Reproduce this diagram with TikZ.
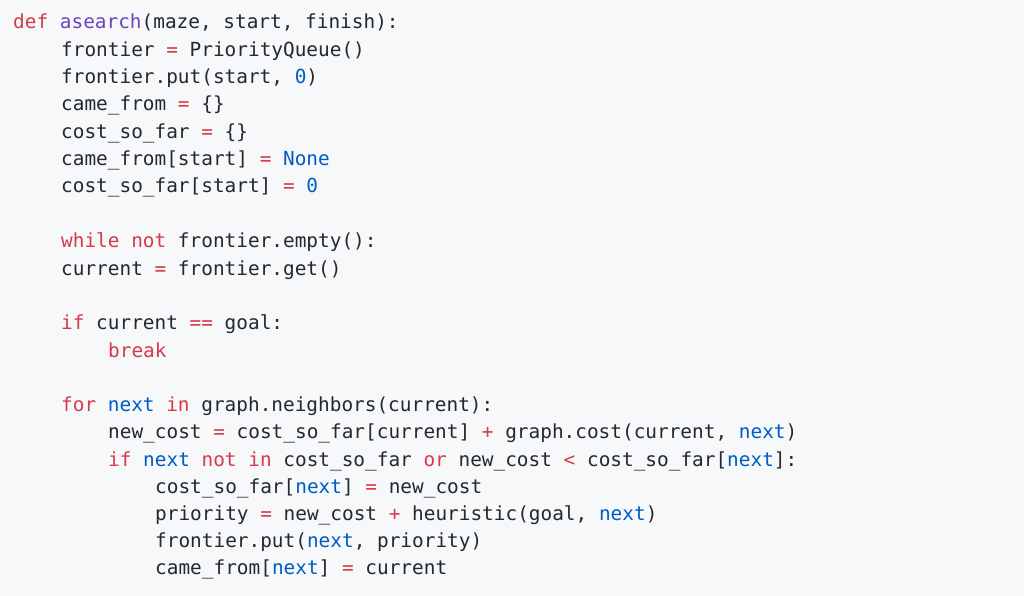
\documentclass[tikz,border=0pt]{standalone}
\usepackage{fontspec}
\setmonofont{DejaVu Sans Mono}
\definecolor{bg}{HTML}{F6F8FA}
\definecolor{kw}{HTML}{D73A49}
\definecolor{fn}{HTML}{6F42C1}
\definecolor{nm}{HTML}{005CC5}
\definecolor{tx}{HTML}{24292E}
\newcommand{\Kw}[1]{\textcolor{kw}{#1}}
\newcommand{\Bl}[1]{\textcolor{nm}{#1}}
\newcommand{\Pu}[1]{\textcolor{fn}{#1}}
\tikzset{code/.style={anchor=base west,inner sep=0pt,text=tx,font=\ttfamily\fontsize{19.4}{20}\selectfont}}
\begin{document}
\begin{tikzpicture}[x=1pt,y=-1pt]
\fill[bg] (0,0) rectangle (1024,596);
\useasboundingbox (0,0) rectangle (1024,596);
\def\a{13}\def\b{61}\def\c{108}\def\d{155}
\node[code] (l1) at (\a,29) {\Kw{def} \Pu{asearch}(maze, start, finish):};
\node[code] (l2) at (\b,56.5) {frontier \Kw{=} PriorityQueue()};
\node[code] (l3) at (\b,84) {frontier.put(start, \Bl{0})};
\node[code] (l4) at (\b,111) {came\_from \Kw{=} \{\}};
\node[code] (l5) at (\b,138.5) {cost\_so\_far \Kw{=} \{\}};
\node[code] (l6) at (\b,166) {came\_from[start] \Kw{=} \Bl{None}};
\node[code] (l7) at (\b,193) {cost\_so\_far[start] \Kw{=} \Bl{0}};
\node[code] (l8) at (\b,247.5) {\Kw{while} \Kw{not} frontier.empty():};
\node[code] (l9) at (\b,275) {current \Kw{=} frontier.get()};
\node[code] (l10) at (\b,329.5) {\Kw{if} current \Kw{==} goal:};
\node[code] (l11) at (\c,357) {\Kw{break}};
\node[code] (l12) at (\b,411.5) {\Kw{for} \Bl{next} \Kw{in} graph.neighbors(current):};
\node[code] (l13) at (\c,438.5) {new\_cost \Kw{=} cost\_so\_far[current] \Kw{+} graph.cost(current, \Bl{next})};
\node[code] (l14) at (\c,466) {\Kw{if} \Bl{next} \Kw{not} \Kw{in} cost\_so\_far \Kw{or} new\_cost \Kw{<} cost\_so\_far[\Bl{next}]:};
\node[code] (l15) at (\d,493) {cost\_so\_far[\Bl{next}] \Kw{=} new\_cost};
\node[code] (l16) at (\d,520.5) {priority \Kw{=} new\_cost \Kw{+} heuristic(goal, \Bl{next})};
\node[code] (l17) at (\d,547.5) {frontier.put(\Bl{next}, priority)};
\node[code] (l18) at (\d,574.5) {came\_from[\Bl{next}] \Kw{=} current};
\end{tikzpicture}
\end{document}
